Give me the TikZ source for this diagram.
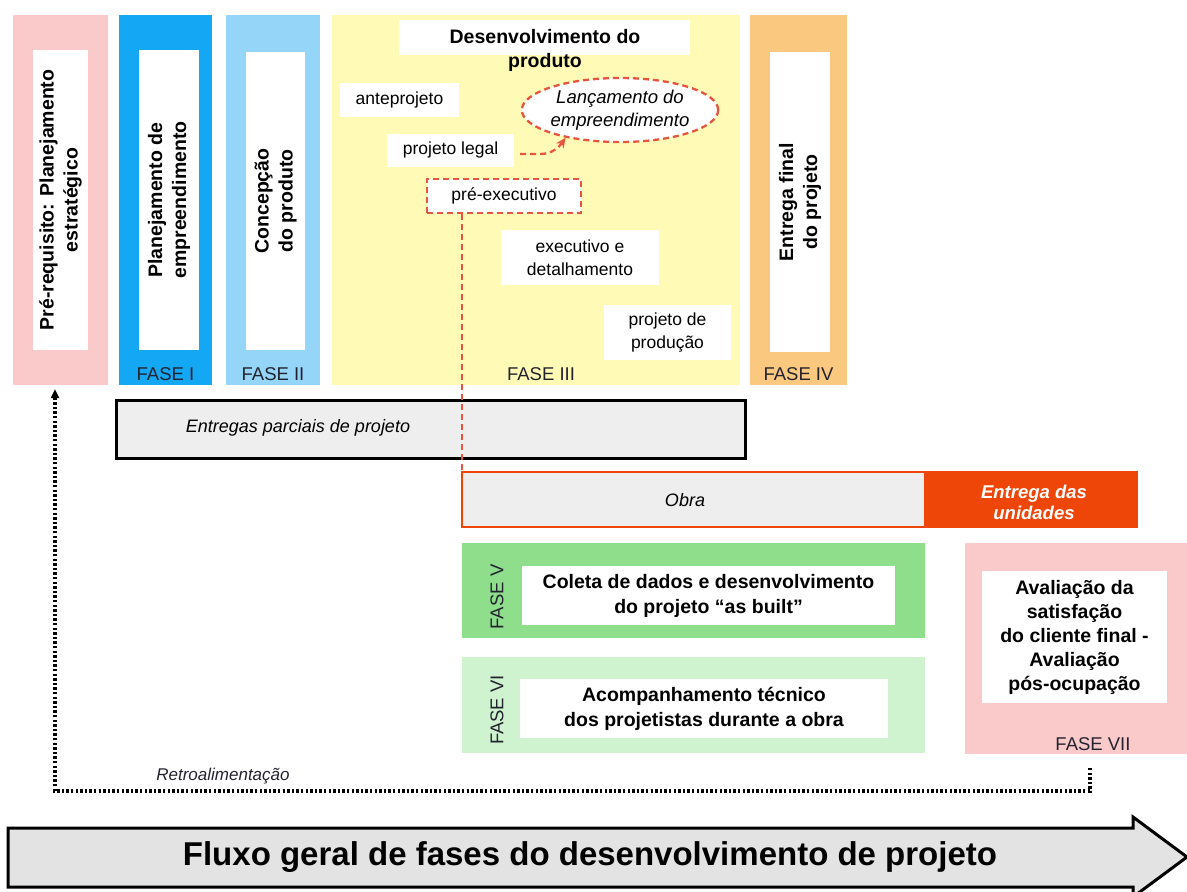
\documentclass[tikz,border=0pt]{standalone}
\usepackage{fontspec}
\setmainfont{Liberation Sans}
\usepackage{tikz}
\usetikzlibrary{calc}
\usetikzlibrary{positioning}
\usetikzlibrary{shapes}
\usetikzlibrary{arrows.meta}

\definecolor{prepink}{HTML}{FACACA}
\definecolor{faseblue}{HTML}{14A7F3}
\definecolor{faselightblue}{HTML}{95D5F8}
\definecolor{faseyellow}{HTML}{FFFBB6}
\definecolor{faseorange}{HTML}{FBC880}
\definecolor{fasegreen}{HTML}{8EDE8C}
\definecolor{faselightgreen}{HTML}{CEF3CE}
\definecolor{obrared}{HTML}{EE4608}
\definecolor{dashred}{HTML}{E8553D}
\definecolor{boxgray}{HTML}{EEEEEE}
\definecolor{fasetext}{HTML}{23232F}

\tikzset{
  panel/.style={anchor=north west, inner sep=0pt, outer sep=0pt},
  innerbox/.style={fill=white, rotate=90, inner sep=0pt, align=center,
    font=\fontsize{19.5}{24}\selectfont\bfseries},
  textbox/.style={fill=white, inner sep=0pt, align=center,
    font=\fontsize{17.5}{23}\selectfont},
  boldbox/.style={fill=white, inner sep=0pt, align=center,
    font=\fontsize{19.5}{25}\selectfont\bfseries},
  fasetxt/.style={text=fasetext, font=\fontsize{18.5}{22}\selectfont},
  redline/.style={draw=dashred, line width=2.3pt, dash pattern=on 6pt off 4pt},
  retro/.style={draw=black, line width=3.6pt, dash pattern=on 2.4pt off 2.2pt},
}

\begin{document}
\begin{tikzpicture}[x=1pt,y=-1pt]
\clip (0,0) rectangle (1187,892);

% colunas de cima
\node[panel, fill=prepink, minimum width=95, minimum height=370] (pre) at (13,15) {};
\node[panel, fill=faseblue, minimum width=93, minimum height=370] (f1) at (119,15) {};
\node[panel, fill=faselightblue, minimum width=94, minimum height=370] (f2) at (226,15) {};
\node[panel, fill=faseyellow, minimum width=408, minimum height=370] (f3) at (332,15) {};
\node[panel, fill=faseorange, minimum width=97, minimum height=370] (f4) at (750,15) {};

\node[innerbox, minimum width=300, minimum height=55] (preinner) at (60.5,200) {Pré-requisito: Planejamento\\estratégico};
\node[innerbox, minimum width=300, minimum height=60] (f1inner) at (169,200) {Planejamento de\\empreendimento};
\node[innerbox, minimum width=298, minimum height=59] (f2inner) at (275.5,201) {Concepção\\do produto};
\node[innerbox, minimum width=300, minimum height=60] (f4inner) at (800,202) {Entrega final\\do projeto};

\node[fasetxt] (f1lab) at ($(f1.south)+(0,-11)$) {FASE I};
\node[fasetxt] (f2lab) at ($(f2.south)+(0,-11)$) {FASE II};
\node[fasetxt] (f3lab) at ($(f3.south)+(5,-11)$) {FASE III};
\node[fasetxt] (f4lab) at ($(f4.south)+(0,-11)$) {FASE IV};

% desenvolvimento do produto
\node[fill=white, minimum width=291, minimum height=35, inner sep=0pt] (devbox) at (544.5,37.5) {};
\node[align=center, font=\fontsize{19.5}{24}\selectfont\bfseries] (dev) at (545,50) {Desenvolvimento do\\produto};
\node[textbox, minimum width=119, minimum height=34] (ante) at (399.5,100) {anteprojeto};
\node[ellipse, redline, fill=white, minimum width=190, minimum height=64, inner sep=0pt, align=center,
  font=\fontsize{18.5}{23}\selectfont\itshape] (launch) at (620,110) {Lançamento do\\empreendimento};
\node[textbox, minimum width=127, minimum height=33] (legal) at (450.5,150) {projeto legal};
\node[textbox, redline, minimum width=154, minimum height=34] (preexec) at (504,196) {pré-executivo};
\node[textbox, minimum width=158, minimum height=55] (exec) at (580,257.5) {executivo e\\detalhamento};
\node[textbox, minimum width=127, minimum height=55] (prod) at (667.5,332.5) {projeto de\\produção};

\draw[redline, -{Stealth[length=10pt, width=9pt, fill=dashred]}] ($(legal.east)+(6,4)$) -- ++(20,0) to[out=0, in=235] (launch.207);

% entregas e obra
\node[panel, fill=boxgray, draw=black, line width=3pt, minimum width=629, minimum height=58] (parciais) at (116,400) {};
\node[font=\fontsize{18}{22}\selectfont\itshape] (parclab) at (298,428) {Entregas parciais de projeto};

\node[panel, fill=obrared, minimum width=213, minimum height=57] (unid) at (925,471) {};
\node[panel, fill=boxgray, draw=obrared, line width=2.5pt, minimum width=463, minimum height=55] (obra) at (462,472) {};
\node[font=\fontsize{18}{22}\selectfont\itshape] (obralab) at (685,500) {Obra};
\node[text=white, align=center, font=\fontsize{18.5}{21}\selectfont\bfseries\itshape] (unidlab) at (1034,502) {Entrega das\\unidades};

\draw[redline] ($(preexec.south west)+(36,0)$) coordinate (pe) -- (pe |- obra.north);

% fases de baixo
\node[panel, fill=fasegreen, minimum width=463, minimum height=95] (f5) at (462,543) {};
\node[panel, fill=faselightgreen, minimum width=463, minimum height=96] (f6) at (462,657) {};
\node[panel, fill=prepink, minimum width=222, minimum height=211] (f7) at (965,543) {};

\node[fasetxt, rotate=90] (f5lab) at (497,597) {FASE V};
\node[fasetxt, rotate=90] (f6lab) at (497,710) {FASE VI};
\node[fasetxt] (f7lab) at (1093,744) {FASE VII};

\node[boldbox, minimum width=373, minimum height=59] (asbuilt) at (708.5,595.5) {Coleta de dados e desenvolvimento\\do projeto “as built”};
\node[boldbox, minimum width=368, minimum height=59] (acomp) at (704,708.5) {Acompanhamento técnico\\dos projetistas durante a obra};
\node[boldbox, minimum width=185, minimum height=132, font=\fontsize{19.5}{24}\selectfont\bfseries] (aval) at (1074.5,637) {Avaliação da\\satisfação\\do cliente final -\\Avaliação\\pós-ocupação};

% retroalimentacao
\draw[retro, -{Triangle[length=9pt, width=8pt]}] ($(f7.south west)+(125,14)$) -- ++(0,23) -| ($(pre.south)+(-5.5,4)$);
\node[font=\fontsize{17}{20}\selectfont\itshape, text=fasetext] (retrolab) at (223,776) {Retroalimentação};

% seta do fluxo
\draw[fill=boxgray!90!gray, line width=3pt, line join=miter]
  (8,828) -- (1133,828) -- (1133,817) -- (1187,857) -- (1133,897) -- (1133,887) -- (8,887) -- cycle;
\node[font=\fontsize{33}{38}\selectfont\bfseries] (fluxo) at (590,857) {Fluxo geral de fases do desenvolvimento de projeto};
\end{tikzpicture}
\end{document}
